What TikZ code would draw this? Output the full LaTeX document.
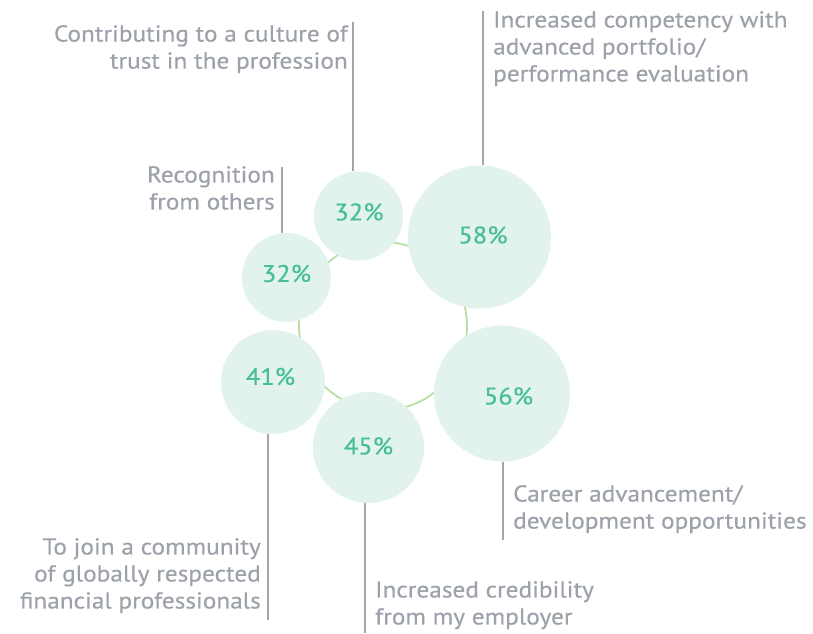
\documentclass[tikz,border=0pt]{standalone}
\usepackage{fontspec}
\setmainfont[FakeStretch=1.1, FakeBold=0.4]{PT Sans}
\definecolor{bubble}{HTML}{E2F2EC}
\definecolor{pct}{HTML}{45BE9B}
\definecolor{ringc}{HTML}{B8DEA3}
\definecolor{labc}{HTML}{9DA2AA}
\definecolor{linec}{HTML}{A6A6A6}
\tikzset{
  bub/.style={circle, fill=bubble, draw=none, inner sep=0pt},
  pctxt/.style={text=pct, inner sep=0pt, font=\fontsize{24}{27}\selectfont},
  lab/.style={inner sep=0pt, text=labc, font=\fontsize{23}{27}\selectfont},
  leader/.style={draw=linec, line width=1.6pt},
  ringline/.style={circle, draw=ringc, line width=1.8pt, inner sep=0pt}
}
\begin{document}
\begin{tikzpicture}[x=1pt,y=-1pt]
\useasboundingbox (0,0) rectangle (813,633);
% ring behind the bubbles
\node[ringline, minimum size=168pt] (ring) at (383,326) {};
% bubbles
\node[bub, minimum size=89pt] (c1) at (358.5,216) {};
\node[bub, minimum size=143pt] (c2) at (479.5,237) {};
\node[bub, minimum size=136pt] (c3) at (502,393.5) {};
\node[bub, minimum size=111pt] (c4) at (368.5,447.5) {};
\node[bub, minimum size=104pt] (c5) at (273,382) {};
\node[bub, minimum size=89pt] (c6) at (286.5,277.5) {};
\node[pctxt] (t1) at (359,212) {32\%};
\node[pctxt] (t2) at (483,235) {58\%};
\node[pctxt] (t3) at (508.5,396) {56\%};
\node[pctxt] (t4) at (368.5,446) {45\%};
\node[pctxt] (t5) at (270.5,376.5) {41\%};
\node[pctxt] (t6) at (286.5,273.5) {32\%};
% labels
\node[lab, anchor=north east, align=right] (l1) at (348,25) {Contributing to a culture of\\trust in the profession};
\node[lab, anchor=north west, align=left] (l2) at (493,11) {Increased competency with\\advanced portfolio/\\performance evaluation};
\node[lab, anchor=north west, align=left] (l3) at (513,485) {Career advancement/\\development opportunities};
\node[lab, anchor=north west, align=left] (l4) at (375,581) {Increased credibility\\from my employer};
\node[lab, anchor=north east, align=right] (l5) at (261,538) {To join a community\\of globally respected\\financial professionals};
\node[lab, anchor=north east, align=right] (l6) at (275,166) {Recognition\\from others};
% leader ends
\coordinate (e1) at (353,22);
\coordinate (e2) at (483,11);
\coordinate (e3) at (503,540);
\coordinate (e4) at (365,633);
\coordinate (e5) at (268,620);
\coordinate (e6) at (282,167);
\draw[leader] (c1.north -| e1) -- (e1);
\draw[leader] (c2.north -| e2) -- (e2);
\draw[leader] (c3.south -| e3) -- (e3);
\draw[leader] (c4.south -| e4) -- (e4);
\draw[leader] (c5.south -| e5) -- (e5);
\draw[leader] (c6.north -| e6) -- (e6);
\end{tikzpicture}
\end{document}
